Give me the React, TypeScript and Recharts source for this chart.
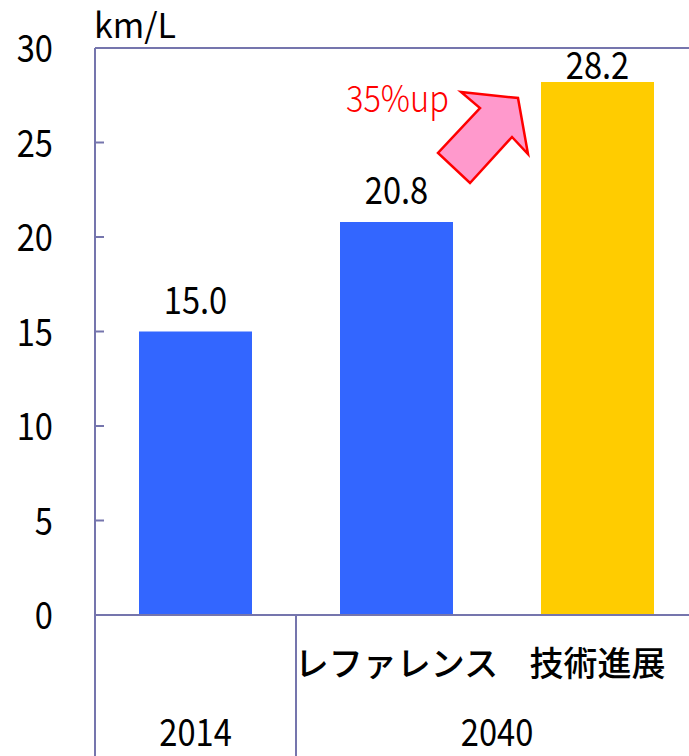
import React from 'react';
import { BarChart, Bar, XAxis, YAxis, Cell, LabelList, ReferenceLine } from 'recharts';

const categories = ['', 'レファレンス', '技術進展'];
const groups = ['2014', '2040', ''];
const values = [15.0, 20.8, 28.2];
const barColors = ['#3366ff', '#3366ff', '#ffcc00'];
const yTicks = [0, 5, 10, 15, 20, 25, 30];

const data = categories.map((name, i) => ({ name, group: groups[i], value: values[i] }));

const AXIS = '#7575ad';
const FONT = "'Noto Sans CJK JP', sans-serif";
const PLOT_LEFT = 95;
const PLOT_TOP = 48;
const PLOT_BOTTOM = 615;
const CHART_W = 698;
const CHART_H = 756;
const BAND = (CHART_W - PLOT_LEFT) / categories.length;
const NARROW = 0.86;

// condensed text: the original uses a narrow gothic face we don't have
const NText = ({ x, y, anchor = 'start', size = 38, fill = '#000', weight = 400, sx = NARROW, children }: any) => (
    <text
        transform={`translate(${x},${y}) scale(${sx},1)`}
        textAnchor={anchor}
        fontSize={size}
        fontFamily={FONT}
        fontWeight={weight}
        fill={fill}
    >
        {children}
    </text>
);

const YTick = (props: any) => {
    const { y, payload } = props;
    return (
        <g>
            <line x1={PLOT_LEFT} x2={PLOT_LEFT + 9} y1={y} y2={y} stroke={AXIS} strokeWidth={2} />
            <NText x={53} y={y + 14} anchor="end">{payload.value}</NText>
        </g>
    );
};

const XTick = (props: any) => {
    const { x, index, payload } = props;
    const group = groups[index];
    // 2014 sits under its own column, 2040 spans the last two
    const groupX = index === 1 ? x + BAND / 2 : x;
    return (
        <g>
            {index < 2 && (
                <line x1={x - BAND / 2} x2={x - BAND / 2} y1={PLOT_BOTTOM} y2={CHART_H} stroke={AXIS} strokeWidth={2} />
            )}
            {payload.value && (
                <text x={x} y={PLOT_BOTTOM + 61} textAnchor="middle" fontSize={34} fontWeight={500} fontFamily={FONT} fill="#000">
                    {payload.value}
                </text>
            )}
            {group && <NText x={groupX} y={PLOT_BOTTOM + 131} anchor="middle">{group}</NText>}
        </g>
    );
};

const ValueLabel = (props: any) => {
    const { x, y, width, value } = props;
    const baseline = Math.max(y - 18, PLOT_TOP + 31);
    return (
        <NText x={x + width / 2} y={baseline} anchor="middle">
            {Number(value).toFixed(1)}
        </NText>
    );
};

export default function App() {
    return (
        <div style={{ position: 'relative', width: 689, height: CHART_H, overflow: 'hidden', background: '#fff' }}>
            <style>{'body{margin:0}'}</style>
            <BarChart
                width={CHART_W}
                height={CHART_H}
                data={data}
                margin={{ top: PLOT_TOP, right: 0, left: 15, bottom: 0 }}
            >
                <XAxis
                    dataKey="name"
                    height={CHART_H - PLOT_BOTTOM}
                    axisLine={{ stroke: AXIS, strokeWidth: 2 }}
                    tickLine={false}
                    tick={<XTick />}
                    interval={0}
                />
                <YAxis
                    width={80}
                    domain={[0, 30]}
                    ticks={yTicks}
                    axisLine={{ stroke: AXIS, strokeWidth: 2 }}
                    tickLine={false}
                    tick={<YTick />}
                />
                <ReferenceLine y={30} stroke={AXIS} strokeWidth={2} />
                <Bar dataKey="value" barSize={113} isAnimationActive={false}>
                    {data.map((entry, index) => (
                        <Cell key={`cell-${index}`} fill={barColors[index]} />
                    ))}
                    <LabelList dataKey="value" content={<ValueLabel />} />
                </Bar>
            </BarChart>
            <svg width={689} height={CHART_H} style={{ position: 'absolute', left: 0, top: 0, pointerEvents: 'none' }}>
                <NText x={94} y={38} size={34} sx={1}>km/L</NText>
                <NText x={346} y={112} size={37} sx={0.88} weight={300} fill="#ff0000">35%up</NText>
                <polygon
                    points="461,92 518,98 528,154 512,137 470,183 438,153 480,108"
                    fill="#ff99cc"
                    stroke="#ff0000"
                    strokeWidth={2.5}
                />
            </svg>
        </div>
    );
}
